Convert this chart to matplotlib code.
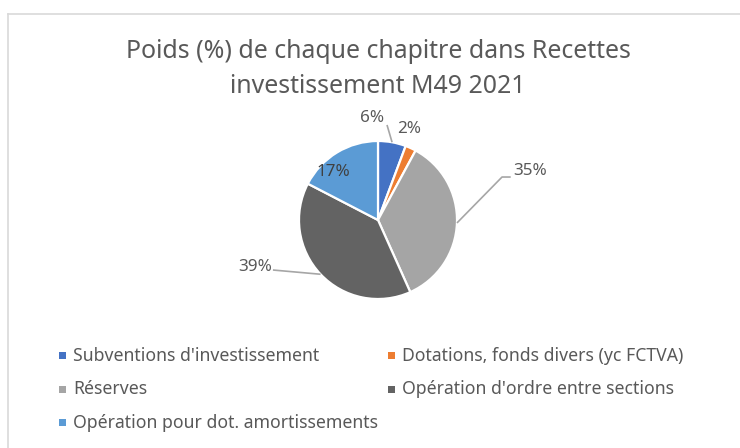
import matplotlib
matplotlib.use("Agg")
import matplotlib.pyplot as plt
from matplotlib.patches import Rectangle
from matplotlib.lines import Line2D
import numpy as np

plt.rcParams['font.family'] = ['Noto Sans', 'DejaVu Sans']

title = "Poids (%) de chaque chapitre dans Recettes\ninvestissement M49 2021"
categories = ["Subventions d'investissement", "Dotations, fonds divers (yc FCTVA)",
              "Réserves", "Opération d'ordre entre sections",
              "Opération pour dot. amortissements"]
values = [5.7, 2.2, 35.4, 39.3, 17.4]
colors = ["#4472C4", "#ED7D31", "#A5A5A5", "#636363", "#5B9BD5"]

W, H = 740, 448
fig = plt.figure(figsize=(W / 100, H / 100), dpi=100)
fig.patch.set_facecolor("white")

def fx(px):
    return px / W

def fy(py):
    return 1 - py / H

# chart frame (top and left edges visible)
border = "#D9D9D9"
fig.add_artist(Line2D([fx(8), 1.0], [fy(14.5), fy(14.5)], color=border, lw=1.2))
fig.add_artist(Line2D([fx(8), fx(8)], [fy(14.5), 0.0], color=border, lw=1.2))

text_color = "#595959"
fig.text(fx(378), fy(69), title, ha="center", va="center", fontsize=17.9,
         color=text_color, linespacing=1.52)

# pie
cx, cy, r = 378, 220, 79
ax = fig.add_axes([fx(cx - r), fy(cy + r), 2 * r / W, 2 * r / H])
wedges, _ = ax.pie(values, colors=colors, startangle=90, counterclock=False,
                   wedgeprops=dict(edgecolor="white", linewidth=1.6))
ax.set_xlim(-1, 1)
ax.set_ylim(-1, 1)
ax.set_aspect("equal")
ax.axis("off")

labels = ["%.0f%%" % v for v in values]
# label positions (layout), in units of pie radius
label_pos = [(-0.08, 1.29), (0.39, 1.15), (1.92, 0.62), (-1.55, -0.59), (-0.56, 0.61)]
label_colors = [text_color, text_color, text_color, text_color, "#404040"]
# leader line bend/end points, in units of pie radius
leaders = {
    0: [(0.114, 1.203)],
    2: [(1.57, 0.544), (1.68, 0.544)],
    3: [(-1.33, -0.633)],
}
lead_color = "#A6A6A6"
for i, (w, lab) in enumerate(zip(wedges, labels)):
    tx, ty = label_pos[i]
    ax.text(tx, ty, lab, ha="center", va="center", fontsize=12.3,
            color=label_colors[i], clip_on=False)
    if i in leaders:
        mid = np.deg2rad((w.theta1 + w.theta2) / 2)
        xs = [np.cos(mid)] + [p[0] for p in leaders[i]]
        ys = [np.sin(mid)] + [p[1] for p in leaders[i]]
        ax.plot(xs, ys, color=lead_color, lw=1.2, clip_on=False,
                solid_capstyle="butt")

# legend (Excel style, row-major, two columns)
col_x = [59, 388]
row_y = [355.5, 389, 422.5]
sq = 7
for i, (lab, col) in enumerate(zip(categories, colors)):
    rr, cc = divmod(i, 2)
    x0, y0 = col_x[cc], row_y[rr]
    fig.add_artist(Rectangle((fx(x0), fy(y0 + sq / 2)), sq / W, sq / H,
                             facecolor=col, edgecolor="none", transform=fig.transFigure))
    fig.text(fx(x0 + 14), fy(y0), lab, ha="left", va="center", fontsize=12.7,
             color=text_color)

fig.savefig("out.png", dpi=100, facecolor="white")
